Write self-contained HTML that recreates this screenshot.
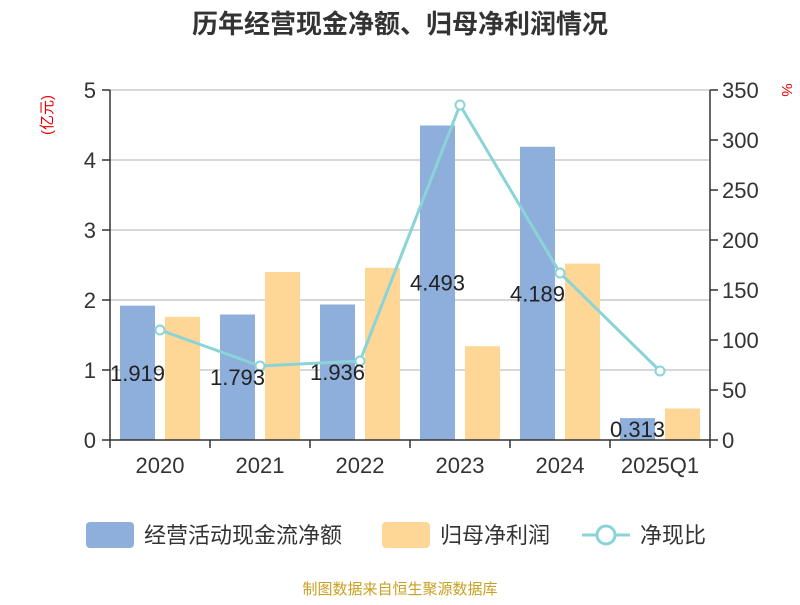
<!DOCTYPE html>
<html><head><meta charset="utf-8"><style>
body{margin:0;background:#fff;font-family:"Liberation Sans","Noto Sans CJK SC",sans-serif}
</style></head><body>
<svg width="800" height="600" xmlns="http://www.w3.org/2000/svg" style="font-family:'Liberation Sans','Noto Sans CJK SC',sans-serif">
<text x="400" y="33" text-anchor="middle" font-size="26" font-weight="bold" fill="#333">历年经营现金净额、归母净利润情况</text>
<text transform="translate(52,115) rotate(-90)" text-anchor="middle" font-size="15" fill="#e00">(亿元)</text>
<text transform="translate(782,90) rotate(90)" text-anchor="middle" font-size="15" fill="#e00">%</text>
<g id="grid"></g><g id="bars"></g><g id="axes"></g><g id="line"></g><g id="labels"></g>
<g>
<rect x="86" y="522" width="48" height="26" rx="4" fill="#8eaedb"/>
<text x="144" y="543" font-size="22" fill="#333">经营活动现金流净额</text>
<rect x="382" y="522" width="48" height="26" rx="4" fill="#fed797"/>
<text x="440" y="543" font-size="22" fill="#333">归母净利润</text>
<line x1="582" y1="535" x2="630" y2="535" stroke="#8ad4d8" stroke-width="3"/>
<circle cx="606" cy="535" r="9" fill="#fff" stroke="#8ad4d8" stroke-width="3"/>
<text x="640" y="543" font-size="22" fill="#333">净现比</text>
</g>
<text x="400" y="594" text-anchor="middle" font-size="15" fill="#c9a020">制图数据来自恒生聚源数据库</text>
</svg>
<script>
const categories=["2020","2021","2022","2023","2024","2025Q1"];
const cashflow=[1.919,1.793,1.936,4.493,4.189,0.313];
const profit=[1.76,2.40,2.46,1.34,2.52,0.45];
const ratio=[110,74,79,335,167,69];
const leftTicks=[0,1,2,3,4,5];
const rightTicks=[0,50,100,150,200,250,300,350];
const NS="http://www.w3.org/2000/svg";
const x0=110,x1=710,yTop=90,yBot=440;
const bw=(x1-x0)/categories.length;
const yL=v=>yBot-(v/5)*(yBot-yTop);
const yR=v=>yBot-(v/350)*(yBot-yTop);
function mk(tag,attrs,parent,txt){const e=document.createElementNS(NS,tag);for(const k in attrs)e.setAttribute(k,attrs[k]);if(txt!==undefined)e.textContent=txt;document.getElementById(parent).appendChild(e);return e;}
leftTicks.forEach(t=>{
 if(t>0){const g=mk('line',{x1:x0,x2:x1,y1:yL(t),y2:yL(t),stroke:'#ccc','stroke-width':1.5},'grid');
 
 }
 const tk=mk('line',{x1:x0-8,x2:x0,y1:yL(t),y2:yL(t),stroke:'#333','stroke-width':1.5},'axes');
 
 
 const l=mk('text',{x:x0-14,y:yL(t)+8,'text-anchor':'end','font-size':22,fill:'#333'},'axes',String(t));
 
 
});
rightTicks.forEach(t=>{
 const tk=mk('line',{x1:x1,x2:x1+8,y1:yR(t),y2:yR(t),stroke:'#333','stroke-width':1.5},'axes');
 
 
 const l=mk('text',{x:x1+12,y:yR(t)+8,'font-size':22,fill:'#333'},'axes',String(t));
 
 
});
let a=mk('line',{x1:x0,x2:x0,y1:yTop,y2:yBot,stroke:'#333','stroke-width':1.5},'axes');


a=mk('line',{x1:x1,x2:x1,y1:yTop,y2:yBot,stroke:'#333','stroke-width':1.5},'axes');


a=mk('line',{x1:x0,x2:x1,y1:yBot,y2:yBot,stroke:'#333','stroke-width':1.5},'axes');


for(let i=0;i<=categories.length;i++){
 const t=mk('line',{x1:x0+i*bw,x2:x0+i*bw,y1:yBot,y2:yBot+8,stroke:'#333','stroke-width':1.5},'axes');
 
 
}
categories.forEach((c,i)=>{
 const cx=x0+i*bw+bw/2;
 const l=mk('text',{x:cx,y:473,'text-anchor':'middle','font-size':22,fill:'#333'},'axes',c);
 
 
 const b1=mk('rect',{x:x0+i*bw+10,y:yL(cashflow[i]),width:35,height:yBot-yL(cashflow[i]),fill:'#8eaedb'},'bars');
 
 
 const b2=mk('rect',{x:x0+i*bw+55,y:yL(profit[i]),width:35,height:yBot-yL(profit[i]),fill:'#fed797'},'bars');
 
 
 const vl=mk('text',{x:x0+i*bw+27.5,y:(yL(cashflow[i])+yBot)/2+8,'text-anchor':'middle','font-size':22,fill:'#222'},'labels',cashflow[i].toFixed(3));
 
 
});
const pts=ratio.map((v,i)=>[x0+i*bw+bw/2,yR(v)]);
const pl=mk('polyline',{points:pts.map(p=>p.join(',')).join(' '),fill:'none',stroke:'#8ad4d8','stroke-width':3},'line');


pts.forEach((p,i)=>{
 const c=mk('circle',{cx:p[0],cy:p[1],r:4.5,fill:'#fff',stroke:'#8ad4d8','stroke-width':2},'line');
 
 
});
</script>
</body></html>
